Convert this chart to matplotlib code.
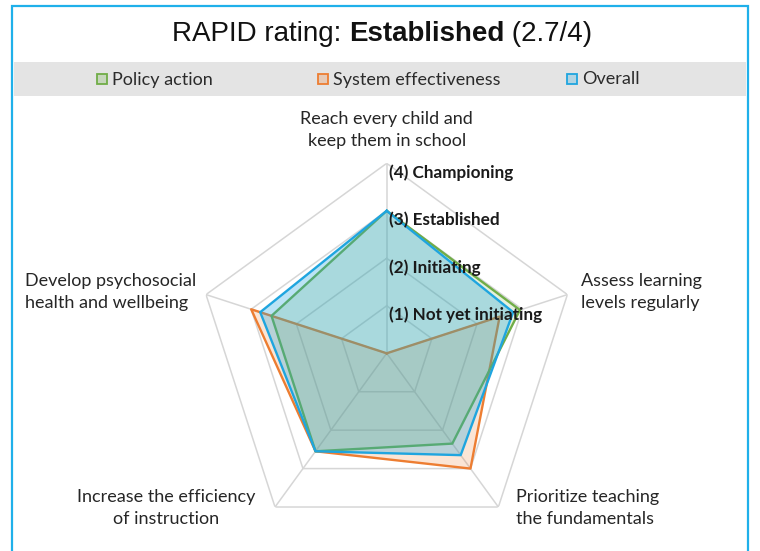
import numpy as np
import matplotlib.pyplot as plt
from matplotlib.patches import Rectangle

# data
categories = ['Reach every child and\nkeep them in school',
              'Assess learning\nlevels regularly',
              'Prioritize teaching\nthe fundamentals',
              'Increase the efficiency\nof instruction',
              'Develop psychosocial\nhealth and wellbeing']
policy_action = [3.0, 2.95, 2.35, 2.55, 2.55]
system_effectiveness = [0.0, 2.5, 3.0, 2.55, 3.0]
overall = [3.0, 2.8, 2.65, 2.55, 2.8]
levels = [1, 2, 3, 4]
level_labels = ['(1) Not yet initiating', '(2) Initiating', '(3) Established', '(4) Championing']
series_names = ['Policy action', 'System effectiveness', 'Overall']
title_parts = [('RAPID rating: ', 'normal'), ('Established', 'bold'), (' (2.7/4)', 'normal')]

c_green = '#70ad47'
c_orange = '#ed7d31'
c_blue = '#1fa5df'
grid_col = '#d6d6d6'
lab_font = 'Lato'

W, H = 760, 551
fig = plt.figure(figsize=(W / 100, H / 100), dpi=100)
renderer = fig.canvas.get_renderer()

# outer blue frame and grey legend band
fig.patches.append(Rectangle((12 / W, -0.05), 736 / W, 1 - 6 / H + 0.05, transform=fig.transFigure,
                             fill=False, edgecolor='#1fb0ea', lw=1.6))
fig.patches.append(Rectangle((14 / W, 1 - 96 / H), 732 / W, 34 / H, transform=fig.transFigure,
                             facecolor='#e4e4e4', edgecolor='none'))

# title built from pieces so that only the rating is bold
x = 172
for txt, wt in title_parts:
    t = fig.text(x / W, 1 - 34 / H, txt, ha='left', va='center',
                 family='Liberation Sans', fontsize=20, weight=wt, color='#111111')
    x += t.get_window_extent(renderer).width

# legend
leg_x = [97, 318, 567]
for x0, name, col in zip(leg_x, series_names, [c_green, c_orange, c_blue]):
    fig.patches.append(Rectangle((x0 / W, 1 - 84 / H), 10 / W, 10 / H, transform=fig.transFigure,
                                 facecolor=col, edgecolor='none', alpha=0.25))
    fig.patches.append(Rectangle((x0 / W, 1 - 84 / H), 10 / W, 10 / H, transform=fig.transFigure,
                                 fill=False, edgecolor=col, lw=1.3))
    fig.text((x0 + 15) / W, 1 - 79.5 / H, name, ha='left', va='center',
             family=lab_font, fontsize=13, color='#2b2b2b')

# radar
cx, cy, R = 386.7, 353.3, 190
ax = fig.add_axes([(cx - R) / W, (H - cy - R) / H, 2 * R / W, 2 * R / H], projection='polar')
ax.set_theta_zero_location('N')
ax.set_theta_direction(-1)
ax.set_ylim(0, 4)
ax.grid(False)
ax.spines['polar'].set_visible(False)
ax.set_xticks([])
ax.set_yticks([])
ax.patch.set_alpha(0)

n = len(categories)
ang = np.linspace(0, 2 * np.pi, n, endpoint=False)
ang_c = np.append(ang, ang[0])

for lv in levels:
    ax.plot(ang_c, [lv] * (n + 1), color=grid_col, lw=1.1, zorder=1)
for a in ang:
    ax.plot([a, a], [0, 4], color=grid_col, lw=1.1, zorder=1)

for vals, col, fa in [(system_effectiveness, c_orange, 0.2),
                      (policy_action, c_green, 0.18),
                      (overall, c_blue, 0.3)]:
    v = np.append(vals, vals[0])
    ax.fill(ang_c, v, color=col, alpha=fa, lw=0, zorder=2)
    ax.plot(ang_c, v, color=col, lw=1.7, zorder=2)

for lv, txt in zip(levels, level_labels):
    ax.annotate(txt, xy=(0, lv), xytext=(2, -9), textcoords='offset pixels',
                ha='left', va='center', family=lab_font, fontsize=12.3, weight='bold',
                color='#1a1a1a', zorder=5, annotation_clip=False)

# category labels: offsets from the outer vertex, in pixels
offsets = [(0, 33, 'center', 'center'), (14, 3, 'left', 'center'), (18, -1, 'left', 'center'),
           (-109, -1, 'center', 'center'), (-10, 3, 'right', 'center')]
for a, txt, (dx, dy, ha, va) in zip(ang, categories, offsets):
    ax.annotate(txt, xy=(a, 4), xytext=(dx, dy), textcoords='offset pixels',
                ha=ha, va=va, multialignment='center' if ha == 'center' else 'left',
                family=lab_font, fontsize=13, color='#262626', linespacing=1.45,
                annotation_clip=False)

fig.savefig('out.png', dpi=100)
